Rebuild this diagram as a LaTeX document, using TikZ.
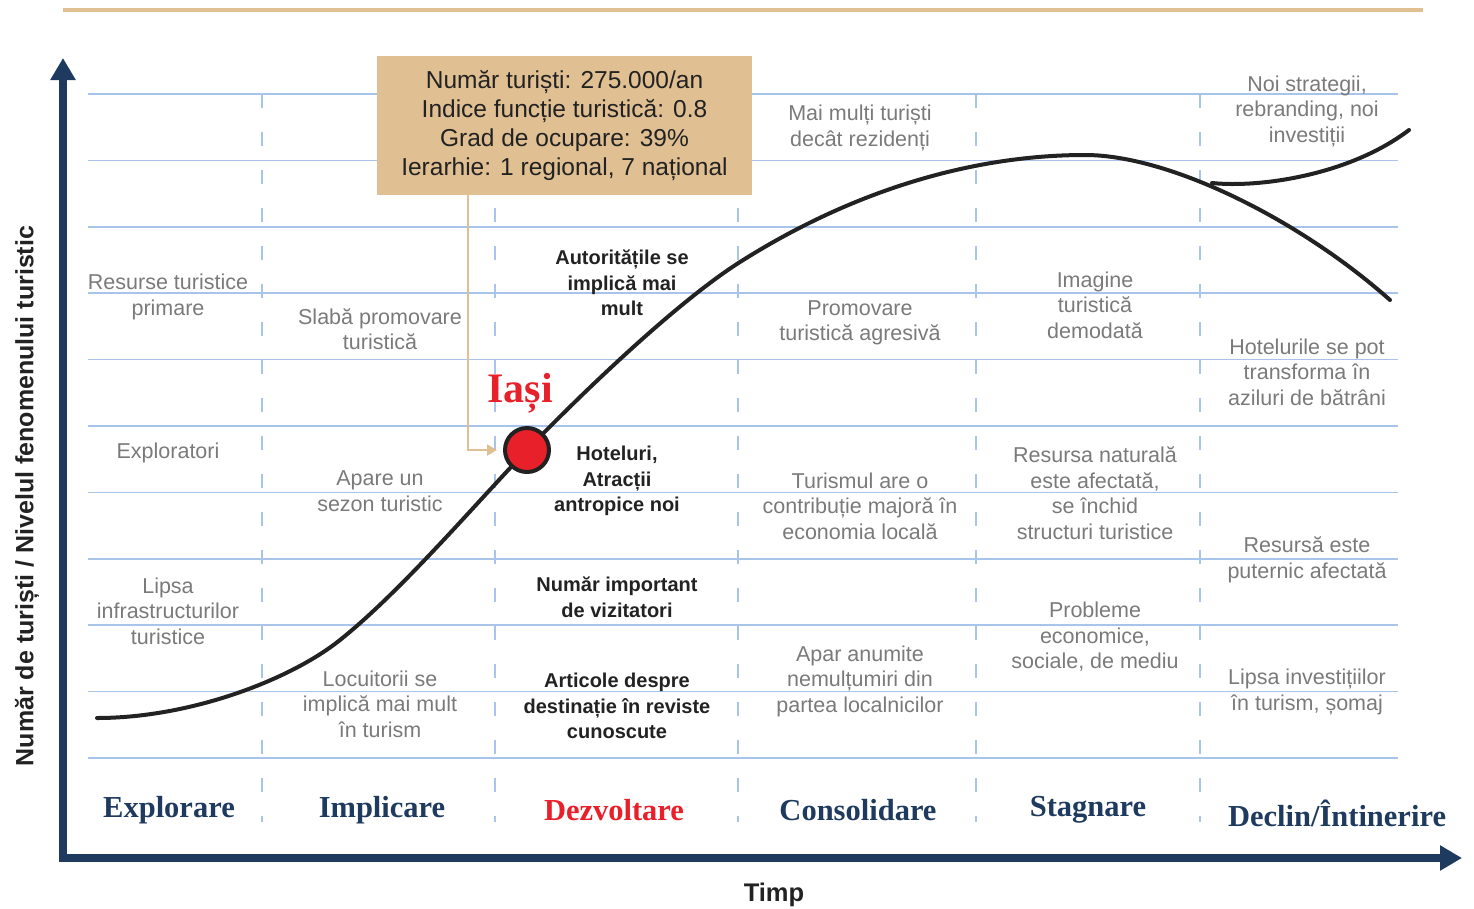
\documentclass[tikz,border=0pt]{standalone}
\usepackage{fontspec}
\setmainfont{Liberation Sans}
\newfontfamily\headfont{Liberation Serif}
\usepackage{tikz}
\usetikzlibrary{positioning, arrows.meta, calc}

\definecolor{navy}{HTML}{1F3A5F}
\definecolor{sand}{HTML}{E0BF93}
\definecolor{gridblue}{HTML}{A9C4EA}
\definecolor{notegray}{HTML}{7A7A7A}
\definecolor{ink}{HTML}{222222}
\definecolor{alarm}{HTML}{E8202A}

\tikzset{
    note/.style={align=center, inner sep=0pt, text=notegray, font=\fontsize{21.5}{25.5}\selectfont},
    keynote/.style={align=center, inner sep=0pt, text=ink, font=\bfseries\fontsize{20}{25.5}\selectfont},
    stage/.style={inner sep=0pt, text=navy, font=\headfont\bfseries\fontsize{30.5}{34}\selectfont},
    gridline/.style={gridblue, line width=1.6pt},
    griddash/.style={gridblue, line width=1.6pt, dash pattern=on 14pt off 24pt},
    axis/.style={navy, line width=8pt},
    curve/.style={ink, line width=4pt, line cap=round}
}

\begin{document}
\begin{tikzpicture}[x=1pt, y=-1pt]
    \useasboundingbox (0,0) rectangle (1474,908);

    % Top rule
    \draw[sand, line width=4pt] (63,10) -- (1423,10);

    % Grid
    \foreach \k in {0,...,10}
        \draw[gridline] (88,94+66.4*\k) -- (1398,94+66.4*\k);
    \foreach \x in {262,495,738,976,1200}
        \draw[griddash] (\x,94) -- (\x,822);

    % Axes
    \coordinate (O) at (63,858);
    \draw[axis, {Triangle[length=22pt,width=24pt]}-{Triangle[length=22pt,width=24pt]}]
        (63,58) -- (O) -- (1462,858);
    \node[rotate=90, font=\bfseries\fontsize{25}{30}\selectfont, text=ink] (ylab) at (27,496)
        {Număr de turiști / Nivelul fenomenului turistic};
    \node[font=\bfseries\fontsize{25.5}{30}\selectfont, text=ink] (xlab) at (774,895) {Timp};

    % Life cycle curve
    \draw[curve] (97,718) .. controls (190,718) and (290,680) .. (340,640)
        .. controls (400,592) and (470,510) .. (527,450)
        .. controls (590,385) and (680,300) .. (740,262)
        .. controls (860,186) and (980,155) .. (1085,155)
        .. controls (1170,155) and (1300,220) .. (1390,300);
    % Rejuvenation branch
    \draw[curve] (1212,183) .. controls (1260,188) and (1350,175) .. (1409,130);

    % Stages
    \node[stage] (explorare) at (169,810) {Explorare};
    \node[stage] (implicare) at (382,810) {Implicare};
    \node[stage, text=alarm] (dezvoltare) at (614,810) {Dezvoltare};
    \node[stage] (consolidare) at (858,810) {Consolidare};
    \node[stage] (stagnare) at (1088,810) {Stagnare};
    \node[stage] (declin) at (1337,813) {Declin/Întinerire};

    % Explorare
    \node[note] (e1) at (168,297) {Resurse turistice\\primare};
    \node[note] (e2) at (168,453) {Exploratori};
    \node[note] (e3) at (168,611) {Lipsa\\infrastructurilor\\turistice};

    % Implicare
    \node[note] (i1) at (380,329) {Slabă promovare\\turistică};
    \node[note] (i2) at (380,491) {Apare un\\sezon turistic};
    \node[note] (i3) at (380,704) {Locuitorii se\\implică mai mult\\în turism};

    % Dezvoltare
    \node[keynote] (d1) at (622,283) {Autoritățile se\\implică mai\\mult};
    \node[keynote] (d2) at (617,481) {Hoteluri,\\Atracții\\antropice noi};
    \node[keynote] (d3) at (617,597) {Număr important\\de vizitatori};
    \node[keynote] (d4) at (617,706) {Articole despre\\destinație în reviste\\cunoscute};

    % Consolidare
    \node[note] (c1) at (860,128) {Mai mulți turiști\\decât rezidenți};
    \node[note] (c2) at (860,323) {Promovare\\turistică agresivă};
    \node[note] (c3) at (860,506) {Turismul are o\\contribuție majoră în\\economia locală};
    \node[note] (c4) at (860,681) {Apar anumite\\nemulțumiri din\\partea localnicilor};

    % Stagnare
    \node[note] (s1) at (1095,305) {Imagine\\turistică\\demodată};
    \node[note] (s2) at (1095,493) {Resursa naturală\\este afectată,\\se închid\\structuri turistice};
    \node[note] (s3) at (1095,637) {Probleme\\economice,\\sociale, de mediu};

    % Declin / Intinerire
    \node[note] (r1) at (1307,111) {Noi strategii,\\rebranding, noi\\investiții};
    \node[note] (r2) at (1307,372) {Hotelurile se pot\\transforma în\\aziluri de bătrâni};
    \node[note] (r3) at (1307,560) {Resursă este\\puternic afectată};
    \node[note] (r4) at (1307,692) {Lipsa investițiilor\\în turism, șomaj};

    % Position of the city on the curve
    \node[circle, fill=alarm, draw=ink, line width=4pt, minimum size=44pt, inner sep=0pt] (iasi) at (527,450) {};
    \node[text=alarm, font=\headfont\bfseries\fontsize{42}{46}\selectfont] (iasilab) at (520,393) {Iași};

    % Key figures
    \node[fill=sand, minimum width=375pt, minimum height=139pt, inner sep=0pt, align=center,
          text=ink, font=\fontsize{24.5}{29}\selectfont] (info) at (564.5,125.5)
        {Număr turiști: 275.000/an\\Indice funcție turistică: 0.8\\Grad de ocupare: 39\%\\Ierarhie: 1 regional, 7 național};
    \draw[sand, line width=2pt, -{Triangle[length=10pt,width=11pt]}]
        ($(info.south west)!0.243!(info.south east)$) |- ([xshift=-6pt]iasi.west);
\end{tikzpicture}
\end{document}
